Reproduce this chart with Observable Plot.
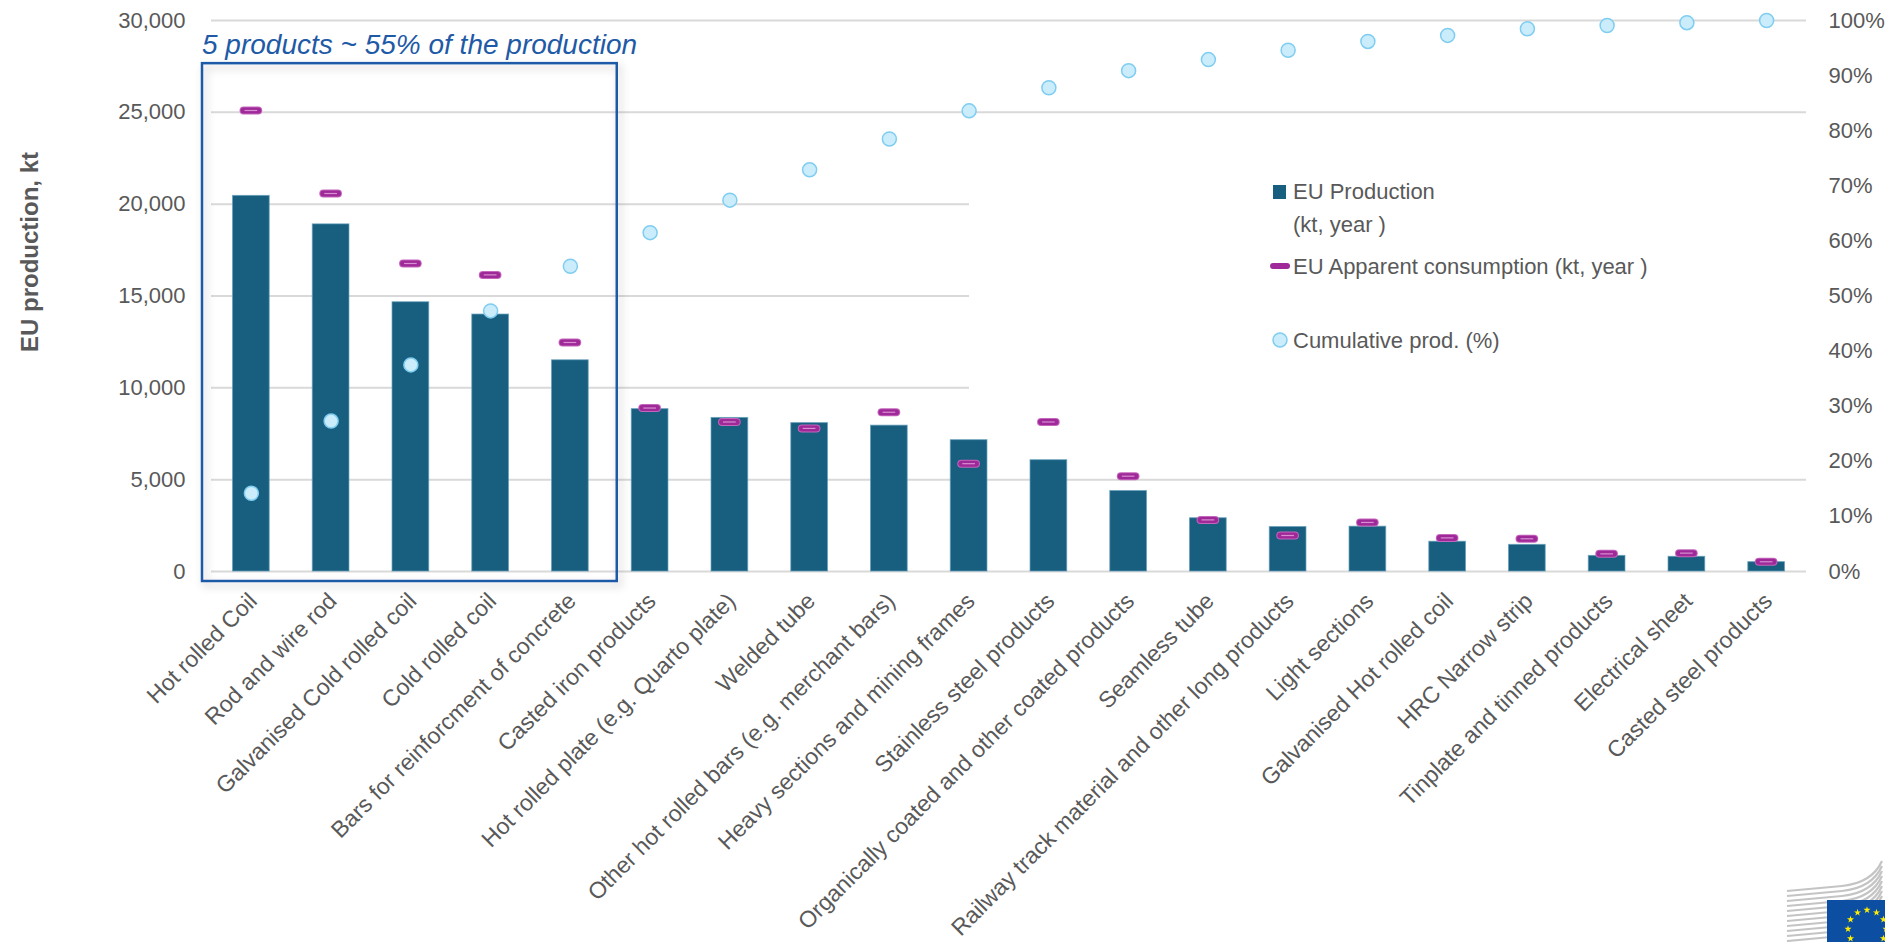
<!DOCTYPE html>
<html>
<head>
<meta charset="utf-8">
<script src="https://cdn.jsdelivr.net/npm/d3@7"></script>
<script src="https://cdn.jsdelivr.net/npm/@observablehq/plot@0.6"></script>
<style>
  body { margin: 0; background: #fff; }
  #wrap { position: relative; width: 1885px; height: 942px; overflow: hidden; font-family: "Liberation Sans", Arial, sans-serif; }
  #legend { position: absolute; left: 969px; top: 140px; }
  #logo { position: absolute; left: 1780px; top: 855px; }
</style>
</head>
<body>
<div id="wrap">
  <div id="chart"></div>
  <svg id="legend" width="843" height="265" font-family="Liberation Sans, Arial, sans-serif" font-size="22" fill="#595959">
    <rect x="0" y="0" width="843" height="265" fill="#fff"></rect>
    <rect x="304" y="45" width="13" height="14" fill="#175e7f"></rect>
    <text x="324" y="59">EU Production</text>
    <text x="324" y="92">(kt, year )</text>
    <rect x="301" y="123" width="20" height="6" rx="3" fill="#a0299a"></rect>
    <text x="324" y="134">EU Apparent consumption (kt, year )</text>
    <circle cx="311" cy="200" r="7" fill="#caecfb" stroke="#7fcdf0" stroke-width="1.5"></circle>
    <text x="324" y="208">Cumulative prod. (%)</text>
  </svg>
  <svg id="logo" width="105" height="87"></svg>
</div>
<script>
// ---- Data ----
const categories = [
  "Hot rolled Coil",
  "Rod and wire rod",
  "Galvanised Cold rolled coil",
  "Cold rolled coil",
  "Bars for reinforcment of concrete",
  "Casted iron products",
  "Hot rolled plate (e.g. Quarto plate)",
  "Welded tube",
  "Other hot rolled bars (e.g. merchant bars)",
  "Heavy sections and mining frames",
  "Stainless steel products",
  "Organically coated and other coated products",
  "Seamless tube",
  "Railway track material and other long products",
  "Light sections",
  "Galvanised Hot rolled coil",
  "HRC Narrow strip",
  "Tinplate and tinned products",
  "Electrical sheet",
  "Casted steel products"
];
const production = [20450, 18900, 14660, 13990, 11500, 8840, 8360, 8080, 7940, 7150, 6060, 4380, 2900, 2420, 2440, 1620, 1450, 850, 800, 510];
const consumption = [25100, 20580, 16770, 16150, 12470, 8900, 8140, 7790, 8670, 5870, 8140, 5190, 2810, 1960, 2670, 1830, 1780, 960, 1000, 530];
const cumulativePct = [14.2, 27.3, 37.5, 47.3, 55.4, 61.5, 67.4, 72.9, 78.5, 83.6, 87.8, 90.9, 92.9, 94.6, 96.2, 97.3, 98.5, 99.1, 99.6, 100];
const leftTicks = [0, 5000, 10000, 15000, 20000, 25000, 30000];
const rightTicks = [0, 10, 20, 30, 40, 50, 60, 70, 80, 90, 100];
const yMax = 30000;
const highlightCount = 5;
const highlightText = "5 products ~ 55% of the production";
const boxTopValue = 27650;

const data = categories.map((c, i) => ({cat: c, prod: production[i], cons: consumption[i], cum: cumulativePct[i]}));

const boxMark = (index, scales) => {
  const x = scales.x, y = scales.y;
  const bw = x.bandwidth ? x.bandwidth() : 37;
  const step = x(categories[1]) - x(categories[0]);
  const gap = (step - bw) / 2;
  const x0 = x(categories[0]) - gap - 9;
  const x1 = x(categories[highlightCount - 1]) + bw + gap + 7;
  const yTop = y(boxTopValue), yBot = y(0) + 10;
  const g = d3.create("svg:g");
  const f = g.append("defs").append("filter").attr("id", "boxshadow")
    .attr("x", "-5%").attr("y", "-5%").attr("width", "115%").attr("height", "115%");
  f.append("feDropShadow").attr("dx", 3).attr("dy", 4).attr("stdDeviation", 4)
    .attr("flood-color", "#000").attr("flood-opacity", 0.22);
  g.append("rect").attr("x", x0).attr("y", yTop).attr("width", x1 - x0).attr("height", yBot - yTop)
    .attr("fill", "none").attr("stroke", "#1f5aa8").attr("stroke-width", 2.5).attr("filter", "url(#boxshadow)");
  g.append("text").attr("x", x0).attr("y", yTop - 9).attr("text-anchor", "start")
    .attr("fill", "#1f5aa6").attr("font-style", "italic").attr("font-size", 28)
    .text(highlightText);
  return g.node();
};

const chart = Plot.plot({
  width: 1885,
  height: 942,
  marginLeft: 211,
  marginRight: 79,
  marginTop: 20,
  marginBottom: 371,
  style: {background: "#fff", color: "#595959", fontFamily: "Liberation Sans, Arial, sans-serif", fontSize: "22px"},
  x: {domain: categories, paddingInner: 0.54, paddingOuter: 0.27, round: false, axis: null},
  y: {domain: [0, yMax], axis: null},
  marks: [
    Plot.ruleY(leftTicks, {stroke: "#d9d9d9", strokeWidth: 2}),
    Plot.barY(data, {x: "cat", y: "prod", fill: "#175e7f", stroke: "#5f9bb8", strokeWidth: 1, strokeOpacity: 0.7}),
    Plot.tickY(data, {x: "cat", y: "cons", stroke: "#c466bb", strokeWidth: 8, strokeLinecap: "round", insetLeft: 11, insetRight: 11}),
    Plot.tickY(data, {x: "cat", y: "cons", stroke: "#a0299a", strokeWidth: 6, strokeLinecap: "round", insetLeft: 11, insetRight: 11}),
    Plot.tickY(data, {x: "cat", y: "cons", stroke: "#d68fd0", strokeWidth: 1.2, insetLeft: 12, insetRight: 12}),
    Plot.dot(data, {x: "cat", y: d => d.cum * yMax / 100, r: 7, fill: "#caecfb", stroke: "#7fcdf0", strokeWidth: 1.5}),
    boxMark,
    Plot.axisY(leftTicks, {anchor: "left", tickSize: 0, tickPadding: 26, tickFormat: d3.format(","), label: null, fontSize: 22}),
    Plot.axisY(rightTicks.map(p => p * yMax / 100), {anchor: "right", tickSize: 0, tickPadding: 22, tickFormat: v => Math.round(v / yMax * 100) + "%", label: null, fontSize: 22}),
    Plot.text(categories, {x: d => d, frameAnchor: "bottom", rotate: -45, textAnchor: "end", dx: 7, dy: 31, fontSize: 23, fill: "#595959"}),
    Plot.text(["EU production, kt"], {frameAnchor: "left", textAnchor: "middle", rotate: -90, dx: -181, dy: -44, fontSize: 24, fontWeight: "bold", fill: "#595959"})
  ]
});
document.getElementById("chart").appendChild(chart);

// ---- EU logo (decorative) ----
const logo = d3.select("#logo");
for (let k = 0; k < 11; k++) {
  const o = k * 5;
  logo.append("path")
    .attr("d", `M7,${36 + o} L62,${31 + o} Q92,${28 + o} 102,${6 + o}`)
    .attr("fill", "none").attr("stroke", "#c4c4c4").attr("stroke-width", 2.2);
}
logo.append("rect").attr("x", 47).attr("y", 45).attr("width", 60).attr("height", 45).attr("fill", "#0b4ea2");
const starPath = d3.symbol(d3.symbolStar, 16)();
for (let s = 0; s < 12; s++) {
  const a = s / 12 * 2 * Math.PI;
  logo.append("path").attr("d", starPath)
    .attr("transform", `translate(${87 + 19 * Math.sin(a)},${74 - 19 * Math.cos(a)})`)
    .attr("fill", "#ffed00");
}
</script>
</body>
</html>
